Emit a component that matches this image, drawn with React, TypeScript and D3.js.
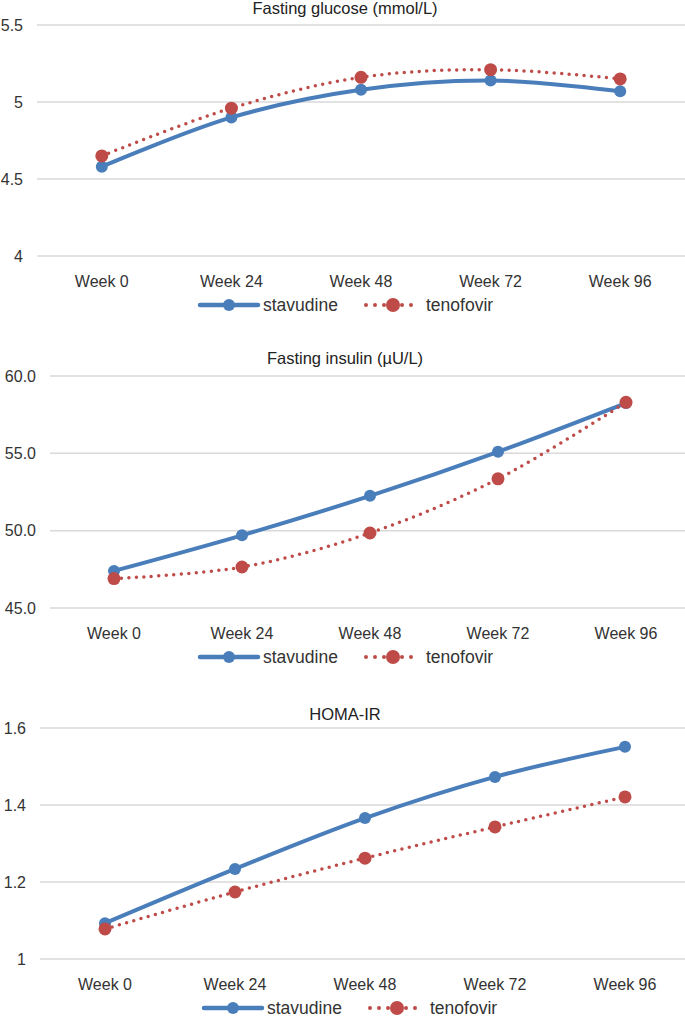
import * as d3 from "d3";

const weeks = ["Week 0", "Week 24", "Week 48", "Week 72", "Week 96"];

const glucoseStavudine = [4.58, 4.9, 5.08, 5.14, 5.07];
const glucoseTenofovir = [4.65, 4.96, 5.16, 5.21, 5.15];
const glucoseTicks = [4, 4.5, 5, 5.5];

const insulinStavudine = [47.4, 49.7, 52.25, 55.1, 58.25];
const insulinTenofovir = [46.9, 47.65, 49.85, 53.35, 58.3];
const insulinTicks = [45, 50, 55, 60];

const homaStavudine = [1.093, 1.234, 1.366, 1.473, 1.551];
const homaTenofovir = [1.078, 1.174, 1.262, 1.343, 1.421];
const homaTicks = [1, 1.2, 1.4, 1.6];

const BLUE = "#4a7ebb";
const RED = "#be4b48";
const FONT = "'Liberation Sans', Arial, sans-serif";

type PanelProps = {
    title: string,
    top: number,
    left: number,
    right: number,
    yTop: number,
    yBottom: number,
    ticks: number[],
    fmt: (v: number) => string,
    stav: number[],
    teno: number[],
    legendX: number,
};

function Panel(p: PanelProps) {
    const x = d3.scaleBand().domain(weeks).range([p.left, p.right]);
    const y = d3.scaleLinear()
        .domain([p.ticks[0], p.ticks[p.ticks.length - 1]])
        .range([p.yBottom, p.yTop]);
    const cx = (w: string) => (x(w) as number) + x.bandwidth() / 2;

    const line = d3.line<number>()
        .x((d, i) => cx(weeks[i]))
        .y((d) => y(d))
        .curve(d3.curveCatmullRom.alpha(0.5));

    const labelY = p.yBottom + 25;
    const legendY = p.yBottom + 49;
    const lx = p.legendX;

    return (
        <g>
            <text x={345} y={p.top} textAnchor="middle" fontSize={16.5} fill="#222">{p.title}</text>
            {p.ticks.map((t) => (
                <g key={t}>
                    <line x1={p.left} x2={p.right} y1={y(t)} y2={y(t)} stroke="#d9d9d9" strokeWidth={1.5} />
                    <text x={p.left - 14} y={y(t)} dy="0.35em" textAnchor="end" fontSize={16} fill="#333">{p.fmt(t)}</text>
                </g>
            ))}
            {weeks.map((w) => (
                <text key={w} x={cx(w)} y={labelY} dy="0.35em" textAnchor="middle" fontSize={16} fill="#333">{w}</text>
            ))}
            <path d={line(p.stav) as string} fill="none" stroke={BLUE} strokeWidth={4} />
            <path d={line(p.teno) as string} fill="none" stroke={RED} strokeWidth={3.5}
                strokeDasharray="0 7.5" strokeLinecap="round" />
            {p.stav.map((v, i) => (
                <circle key={"s" + i} cx={cx(weeks[i])} cy={y(v)} r={6} fill={BLUE} />
            ))}
            {p.teno.map((v, i) => (
                <circle key={"t" + i} cx={cx(weeks[i])} cy={y(v)} r={6.5} fill={RED} />
            ))}

            {/* legend */}
            <line x1={lx} x2={lx + 58} y1={legendY} y2={legendY} stroke={BLUE} strokeWidth={4.5} strokeLinecap="round" />
            <circle cx={lx + 29} cy={legendY} r={6} fill={BLUE} />
            <text x={lx + 63} y={legendY} dy="0.35em" fontSize={17.5} fill="#333">stavudine</text>
            <line x1={lx + 166} x2={lx + 220} y1={legendY} y2={legendY} stroke={RED} strokeWidth={4}
                strokeDasharray="0 9" strokeLinecap="round" />
            <circle cx={lx + 193} cy={legendY} r={7} fill={RED} />
            <text x={lx + 226} y={legendY} dy="0.35em" fontSize={17.5} fill="#333">tenofovir</text>
        </g>
    );
}

export default function App() {
    const plain = (v: number) => String(v);
    const oneDec = d3.format(".1f");
    return (
        <svg width={685} height={1019} style={{ position: "absolute", left: 0, top: 0, background: "#fff" }}
            fontFamily={FONT}>
            <Panel title="Fasting glucose (mmol/L)" top={14} left={37} right={685} yTop={25} yBottom={256}
                ticks={glucoseTicks} fmt={plain} stav={glucoseStavudine} teno={glucoseTenofovir} legendX={200} />
            <Panel title="Fasting insulin (µU/L)" top={364} left={50} right={690} yTop={376} yBottom={608}
                ticks={insulinTicks} fmt={oneDec} stav={insulinStavudine} teno={insulinTenofovir} legendX={200} />
            <Panel title="HOMA-IR" top={720} left={40} right={690} yTop={728} yBottom={959}
                ticks={homaTicks} fmt={plain} stav={homaStavudine} teno={homaTenofovir} legendX={204} />
        </svg>
    );
}
